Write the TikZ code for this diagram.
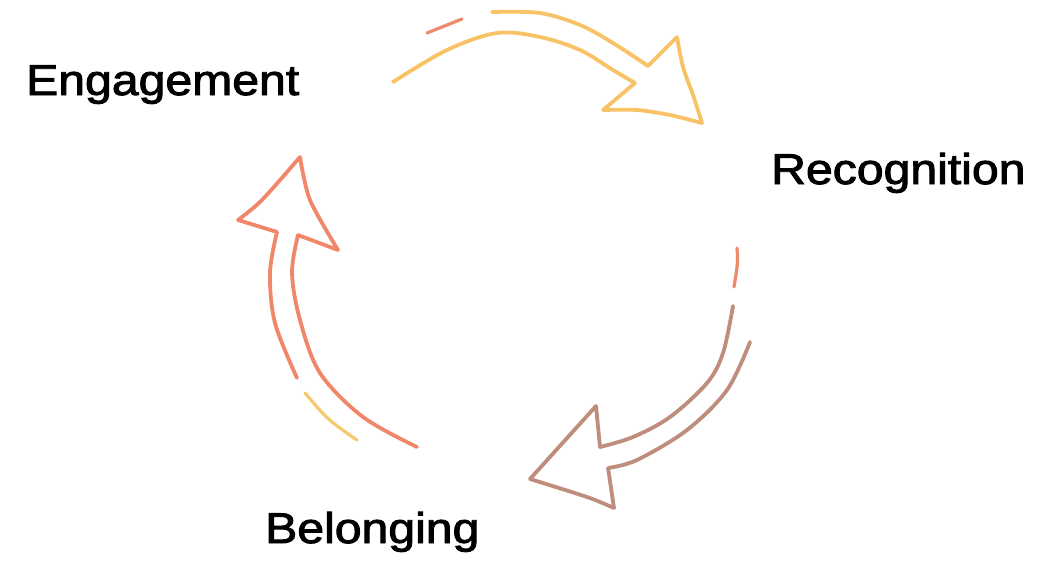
\documentclass[tikz,border=0pt]{standalone}
\usepackage{fontspec}
\usepackage{graphicx}
\setmainfont{Liberation Sans}
\newfontfamily\lblfont{Liberation Sans}[FakeBold=2]
\definecolor{topc}{HTML}{F8C266}
\definecolor{dashred}{HTML}{EE8A6C}
\definecolor{rightc}{HTML}{BE8D7C}
\definecolor{leftc}{HTML}{F0876A}
\definecolor{dashyel}{HTML}{F6C870}
\tikzset{
  sketch/.style={line width=3.8pt, line cap=round, line join=round},
  lbl/.style={font=\lblfont\fontsize{43}{50}\selectfont, inner sep=0pt, anchor=base west, text=black}
}
\begin{document}
\begin{tikzpicture}[x=1pt,y=-1pt]
\useasboundingbox (0,0) rectangle (1056,562);
% labels
\node[lbl] (eng) at (26,95) {\scalebox{1.12}[1]{Engagement}};
\node[lbl] (rec) at (771,184) {\scalebox{1.12}[1]{Recognition}};
\node[lbl] (bel) at (265,543) {\scalebox{1.12}[1]{Belonging}};
% top arrow
\draw[sketch, topc] plot[smooth, tension=0.55] coordinates {(492,12) (540,13) (580,25) (613,43) (648,66)}
  -- (677,37) plot[smooth, tension=0.5] coordinates {(677,37) (683,67) (693,95) (702,123)}
  plot[smooth, tension=0.5] coordinates {(702,123) (670,115) (637,110) (603,110)}
  -- (635,83) plot[smooth, tension=0.55] coordinates {(635,83) (613,70) (580,50) (540,37) (497,33) (447,50) (393,82)};
\draw[sketch, dashred, line width=3.2pt] (427,33) -- (462,19);
% right arrow
\draw[sketch, dashred, line width=3.2pt] (737,248) .. controls (738,262) .. (734,287);
\draw[sketch, rightc] plot[smooth, tension=0.55] coordinates {(733,306) (723,353) (707,383) (670,417) (633,437) (600,447)}
  -- (596,406) -- (530,479) plot[smooth, tension=0.5] coordinates {(530,479) (587,497) (614,508)}
  -- (608,468) plot[smooth, tension=0.55] coordinates {(608,468) (637,460) (687,430) (727,390) (750,342)};
% left arrow
\draw[sketch, leftc] plot[smooth, tension=0.55] coordinates {(297,378) (275,323) (270,273) (277,232)}
  -- (238,220) plot[smooth, tension=0.5] coordinates {(238,220) (262,200) (300,157)}
  plot[smooth, tension=0.5] coordinates {(300,157) (310,200) (338,250)}
  -- (298,235) plot[smooth, tension=0.55] coordinates {(298,235) (292,273) (300,320) (320,373) (363,417) (417,447)};
\draw[sketch, dashyel, line width=3.2pt] (305,393) .. controls (328,420) .. (357,440);
\end{tikzpicture}
\end{document}
